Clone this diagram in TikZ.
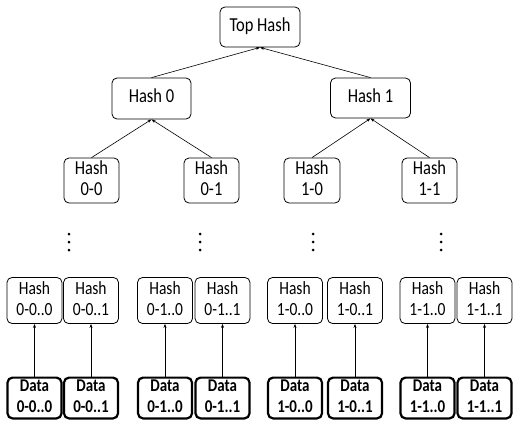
\documentclass[tikz,border=0pt]{standalone}
\usepackage{fontspec}
\setmainfont{Carlito}
\usepackage{graphicx}
\usetikzlibrary{arrows.meta}
\newcommand{\stretchtxt}[1]{\scalebox{1}[1.2]{\begin{tabular}{@{}c@{}}#1\end{tabular}}}
\tikzset{
  hbox/.style={draw, line width=0.8pt, rounded corners=5pt, inner sep=0pt, align=center,
    font=\fontsize{16.5}{18}\selectfont},
  lbox/.style={draw, line width=0.8pt, rounded corners=5pt, inner sep=0pt, align=center,
    minimum width=55pt, minimum height=46pt, font=\fontsize{15.5}{18}\selectfont},
  dbox/.style={draw, line width=2.2pt, rounded corners=5pt, inner sep=0pt, align=center,
    minimum width=54pt, minimum height=37pt, font=\bfseries\fontsize{15}{17}\selectfont},
  conn/.style={line width=0.6pt, -{Stealth[length=4pt,width=3pt]}},
  dotmark/.style={circle, fill=black, inner sep=0pt, minimum size=3pt}
}
\begin{document}
\begin{tikzpicture}[x=1pt,y=-1pt]
\useasboundingbox (0,0) rectangle (513,425);
\node[hbox, minimum width=80pt, minimum height=40pt] (top) at (260,27) {\stretchtxt{Top Hash}};
\node[hbox, minimum width=79pt, minimum height=41pt] (h0) at (151.5,98.5) {\stretchtxt{Hash 0}};
\node[hbox, minimum width=80pt, minimum height=40pt] (h1) at (370.5,98) {\stretchtxt{Hash 1}};
\node[hbox, minimum width=55pt, minimum height=45pt] (h00) at (91.5,180.5) {\stretchtxt{Hash\\0-0}};
\node[hbox, minimum width=55pt, minimum height=45pt] (h01) at (211.5,180.5) {\stretchtxt{Hash\\0-1}};
\node[hbox, minimum width=56pt, minimum height=45pt] (h10) at (312,180.5) {\stretchtxt{Hash\\1-0}};
\node[hbox, minimum width=55pt, minimum height=45pt] (h11) at (429.5,180.5) {\stretchtxt{Hash\\1-1}};

\draw[conn] (h0.north) -- (top.south);
\draw[conn] (h1.north) -- (top.south);
\draw[conn] (h00.north) -- (h0.south);
\draw[conn] (h01.north) -- (h0.south);
\draw[conn] (h10.north) -- (h1.south);
\draw[conn] (h11.north) -- (h1.south);

\foreach \n/\x in {a/69, b/200, c/313, d/441}{
  \node[dotmark] (dot\n1) at (\x,234) {};
  \node[dotmark] (dot\n2) at (\x,242) {};
  \node[dotmark] (dot\n3) at (\x,250) {};
}

\foreach \n/\x/\lab in {1/34.5/0-0..0, 2/91/0-0..1, 3/165/0-1..0, 4/222.5/0-1..1,
                        5/295/1-0..0, 6/355/1-0..1, 7/427.5/1-1..0, 8/484.5/1-1..1}{
  \node[lbox] (l\n) at (\x,300.5) {\stretchtxt{Hash\\\lab}};
  \node[dbox] (d\n) at (\x,398) {\stretchtxt{Data\\\lab}};
  \draw[conn] (d\n.north) -- (l\n.south);
}
\end{tikzpicture}
\end{document}
